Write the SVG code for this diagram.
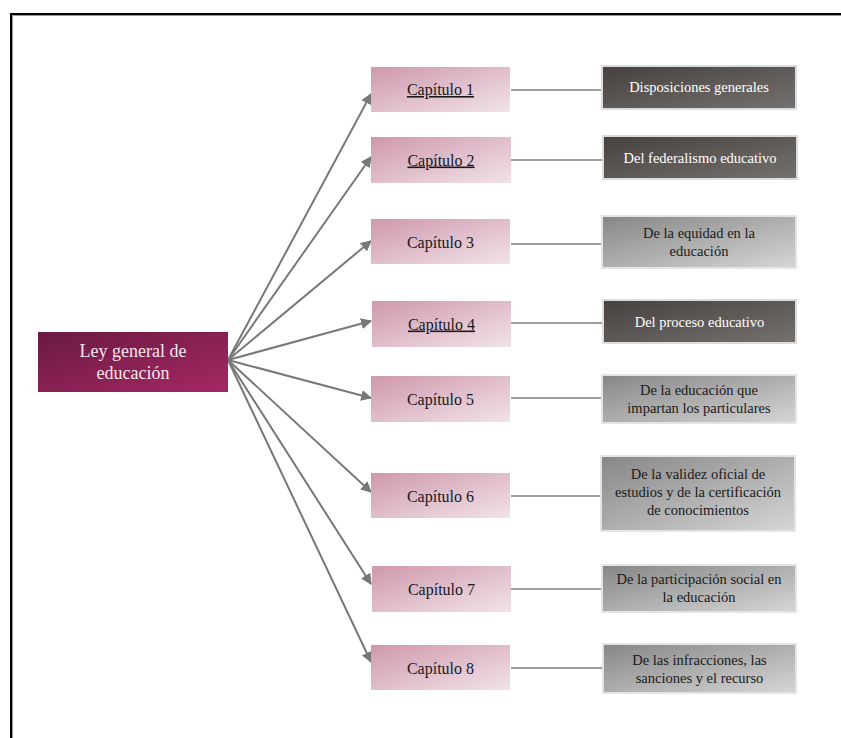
<svg xmlns="http://www.w3.org/2000/svg" width="841" height="738" viewBox="0 0 841 738">
<defs>
<linearGradient id="gMain" x1="0" y1="0" x2="1" y2="1">
<stop offset="0" stop-color="#6a1a44"/><stop offset="1" stop-color="#a52862"/>
</linearGradient>
<linearGradient id="gCap" x1="0" y1="0" x2="1" y2="1">
<stop offset="0" stop-color="#cf98ad"/><stop offset="1" stop-color="#f1e3e8"/>
</linearGradient>
<linearGradient id="gDark" x1="0" y1="0" x2="1" y2="1">
<stop offset="0" stop-color="#46413f"/><stop offset="1" stop-color="#75716f"/>
</linearGradient>
<linearGradient id="gLight" x1="0" y1="0" x2="1" y2="1">
<stop offset="0" stop-color="#868686"/><stop offset="1" stop-color="#d6d6d6"/>
</linearGradient>
<marker id="arr" viewBox="0 0 10 10" refX="9" refY="5" markerWidth="5.5" markerHeight="5.5" orient="auto" markerUnits="strokeWidth">
<path d="M0,0 L10,5 L0,10 z" fill="#777"/>
</marker>
</defs>
<style>
.cap{fill:url(#gCap)}
.dark{fill:url(#gDark);stroke:#dcdcdc;stroke-width:2}
.light{fill:url(#gLight);stroke:#e4e4e4;stroke-width:2}
.t{font-family:"Liberation Serif","DejaVu Serif",serif;text-anchor:middle}
.ct{font-size:16px;fill:#1a1a1a}
.wt{font-size:14.5px;fill:#ffffff}
.bt{font-size:14.5px;fill:#1a1a1a}
.arrow{stroke:#787878;stroke-width:2;fill:none;marker-end:url(#arr)}
.link{stroke:#7f7f7f;stroke-width:1.5;fill:none}
</style>
<rect width="841" height="738" fill="#ffffff"/>
<path d="M11,738 V14 H841" fill="none" stroke="#000" stroke-width="2"/>
<path d="M12.5,738 V15.5 H841" fill="none" stroke="#9a9a9a" stroke-width="1"/>

<g id="connectors">
<line class="arrow" x1="228" y1="360" x2="371" y2="94"/>
<line class="arrow" x1="228" y1="360" x2="371" y2="157"/>
<line class="arrow" x1="228" y1="360" x2="371" y2="241"/>
<line class="arrow" x1="228" y1="360" x2="371" y2="321"/>
<line class="arrow" x1="228" y1="360" x2="371" y2="398"/>
<line class="arrow" x1="228" y1="360" x2="371" y2="492"/>
<line class="arrow" x1="228" y1="360" x2="371" y2="584"/>
<line class="arrow" x1="228" y1="360" x2="371" y2="662"/>
<line class="link" x1="511" y1="90" x2="602" y2="90"/>
<line class="link" x1="511" y1="160" x2="602" y2="160"/>
<line class="link" x1="511" y1="244" x2="602" y2="244"/>
<line class="link" x1="511" y1="323" x2="602" y2="323"/>
<line class="link" x1="511" y1="398" x2="602" y2="398"/>
<line class="link" x1="511" y1="496" x2="602" y2="496"/>
<line class="link" x1="511" y1="589" x2="602" y2="589"/>
<line class="link" x1="511" y1="668" x2="602" y2="668"/>
</g>

<g id="main">
<rect x="38" y="332" width="190" height="60" fill="url(#gMain)"/>
<text class="t" x="133" y="357" font-size="18" fill="#f4e6ee">Ley general de</text>
<text class="t" x="133" y="379" font-size="18" fill="#f4e6ee">educación</text>
</g>

<g id="cap1"><rect class="cap" x="371" y="67" width="139" height="45"/><text class="t ct" x="440.5" y="95" text-decoration="underline">Capítulo 1</text></g>
<g id="cap2"><rect class="cap" x="371" y="137" width="140" height="46"/><text class="t ct" x="441" y="165.5" text-decoration="underline">Capítulo 2</text></g>
<g id="cap3"><rect class="cap" x="371" y="219" width="139" height="45"/><text class="t ct" x="440.5" y="247.5">Capítulo 3</text></g>
<g id="cap4"><rect class="cap" x="372" y="301" width="139" height="46"/><text class="t ct" x="441.5" y="329.5" text-decoration="underline">Capítulo 4</text></g>
<g id="cap5"><rect class="cap" x="371" y="376" width="139" height="46"/><text class="t ct" x="440.5" y="404.5">Capítulo 5</text></g>
<g id="cap6"><rect class="cap" x="371" y="473" width="139" height="45"/><text class="t ct" x="440.5" y="501.5">Capítulo 6</text></g>
<g id="cap7"><rect class="cap" x="372" y="566" width="139" height="46"/><text class="t ct" x="441.5" y="594.5">Capítulo 7</text></g>
<g id="cap8"><rect class="cap" x="371" y="645" width="139" height="45"/><text class="t ct" x="440.5" y="673.5">Capítulo 8</text></g>

<g id="r1"><rect class="dark" x="602" y="66" width="194" height="43"/><text class="t wt" x="699" y="92">Disposiciones generales</text></g>
<g id="r2"><rect class="dark" x="603" y="136" width="194" height="43"/><text class="t wt" x="700" y="163">Del federalismo educativo</text></g>
<g id="r3"><rect class="light" x="602" y="216" width="194" height="52"/><text class="t bt" x="699" y="238">De la equidad en la</text><text class="t bt" x="699" y="256">educación</text></g>
<g id="r4"><rect class="dark" x="603" y="300" width="193" height="43"/><text class="t wt" x="699.5" y="327">Del proceso educativo</text></g>
<g id="r5"><rect class="light" x="602" y="375" width="194" height="48"/><text class="t bt" x="699" y="395">De la educación que</text><text class="t bt" x="699" y="413">impartan los particulares</text></g>
<g id="r6"><rect class="light" x="601" y="456" width="194" height="75"/><text class="t bt" x="698" y="479">De la validez oficial de</text><text class="t bt" x="698" y="497">estudios y de la certificación</text><text class="t bt" x="698" y="515">de conocimientos</text></g>
<g id="r7"><rect class="light" x="602" y="565" width="194" height="47"/><text class="t bt" x="699" y="584">De la participación social en</text><text class="t bt" x="699" y="602">la educación</text></g>
<g id="r8"><rect class="light" x="603" y="644" width="193" height="49"/><text class="t bt" x="699.5" y="665">De las infracciones, las</text><text class="t bt" x="699.5" y="683">sanciones y el recurso</text></g>
</svg>
